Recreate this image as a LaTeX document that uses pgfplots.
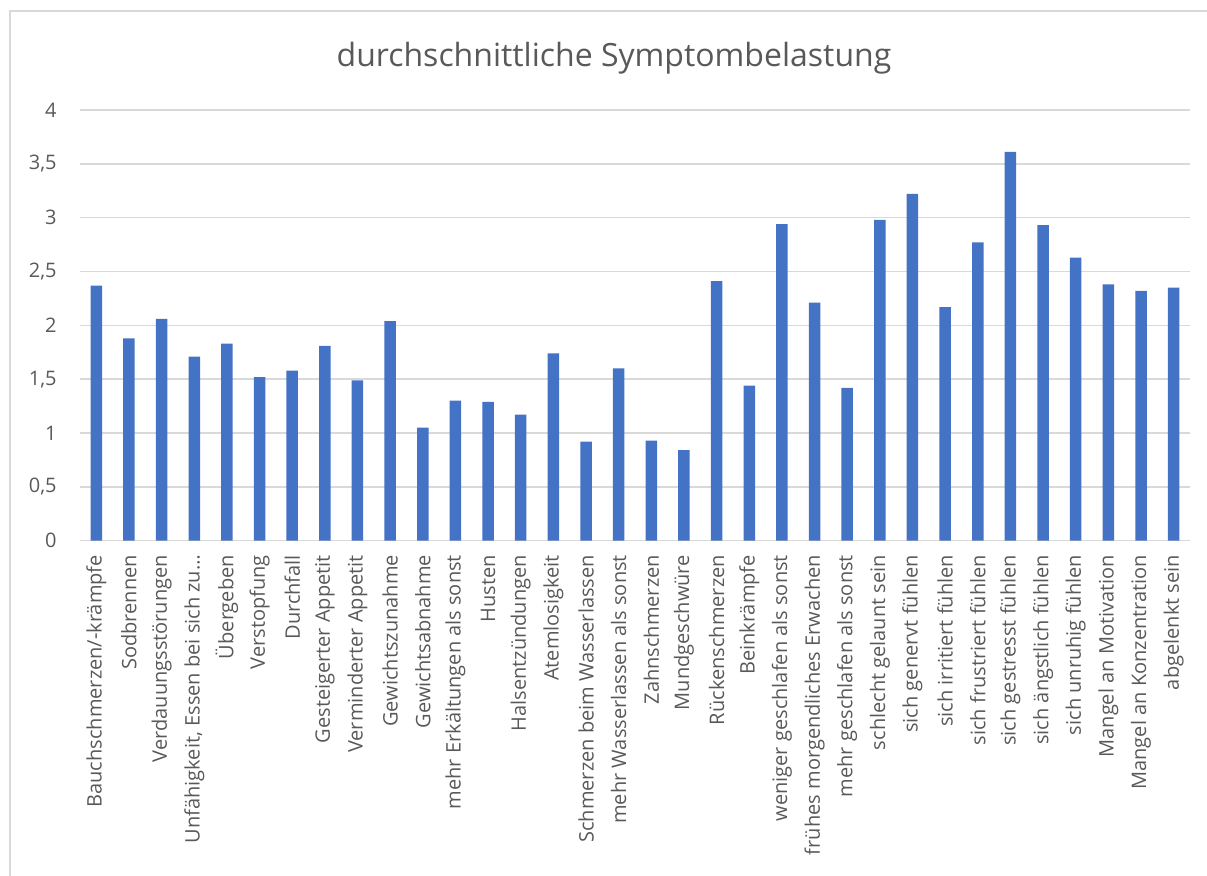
\documentclass[border=0pt]{standalone}
\usepackage{fontspec}
\setmainfont{Open Sans}
\usepackage{pgfplots}
\pgfplotsset{compat=1.18}
\definecolor{barblue}{HTML}{4472C4}
\definecolor{gridgray}{HTML}{D9D9D9}
\definecolor{txtgray}{HTML}{595959}
\begin{document}
\begin{tikzpicture}
\useasboundingbox (0,0) rectangle (603.5pt,438pt);
\draw[gridgray, line width=0.75pt] (5pt,-2pt) -- (5pt,432.5pt) -- (610pt,432.5pt);
\node[txtgray, font=\fontsize{16}{19}\selectfont] at (307pt,409pt) {durchschnittliche Symptombelastung};
\begin{axis}[
  at={(40pt,167.65pt)}, anchor=south west,
  scale only axis, width=555pt, height=215.35pt,
  xmin=-0.5, xmax=33.5, ymin=0, ymax=4,
  ybar, bar width=5.75pt,
  axis line style={draw=none},
  major tick length=0pt,
  ymajorgrids, grid style={gridgray, line width=0.75pt},
  ytick={0,0.5,1,1.5,2,2.5,3,3.5,4},
  yticklabels={0,{0,5},1,{1,5},2,{2,5},3,{3,5},4},
  yticklabel style={anchor=east, inner sep=0pt, font=\fontsize{10}{12}\selectfont, text=txtgray},
  yticklabel shift=11.5pt,
  xtick=data,
  xticklabels={Bauchschmerzen/-krämpfe, Sodbrennen, Verdauungsstörungen, {Unfähigkeit, Essen bei sich zu…}, Übergeben, Verstopfung, Durchfall, Gesteigerter Appetit, Verminderter Appetit, Gewichtszunahme, Gewichtsabnahme, mehr Erkältungen als sonst, Husten, Halsentzündungen, Atemlosigkeit, Schmerzen beim Wasserlassen, mehr Wasserlassen als sonst, Zahnschmerzen, Mundgeschwüre, Rückenschmerzen, Beinkrämpfe, weniger geschlafen als sonst, frühes morgendliches Erwachen, mehr geschlafen als sonst, schlecht gelaunt sein, sich genervt fühlen, sich irritiert fühlen, sich frustriert fühlen, sich gestresst fühlen, sich ängstlich fühlen, sich unruhig fühlen, Mangel an Motivation, Mangel an Konzentration, abgelenkt sein},
  xticklabel style={rotate=90, anchor=east, inner sep=0pt, font=\fontsize{10}{12}\selectfont, text=txtgray},
  xticklabel shift=7pt,
]
\addplot[fill=barblue, draw=none] coordinates {
(0,2.37) (1,1.88) (2,2.06) (3,1.71) (4,1.83) (5,1.52) (6,1.58) (7,1.81) (8,1.49) (9,2.04)
(10,1.05) (11,1.30) (12,1.29) (13,1.17) (14,1.74) (15,0.92) (16,1.60) (17,0.93) (18,0.84) (19,2.41)
(20,1.44) (21,2.94) (22,2.21) (23,1.42) (24,2.98) (25,3.22) (26,2.17) (27,2.77) (28,3.61) (29,2.93)
(30,2.63) (31,2.38) (32,2.32) (33,2.35)
};
\end{axis}
\end{tikzpicture}
\end{document}
